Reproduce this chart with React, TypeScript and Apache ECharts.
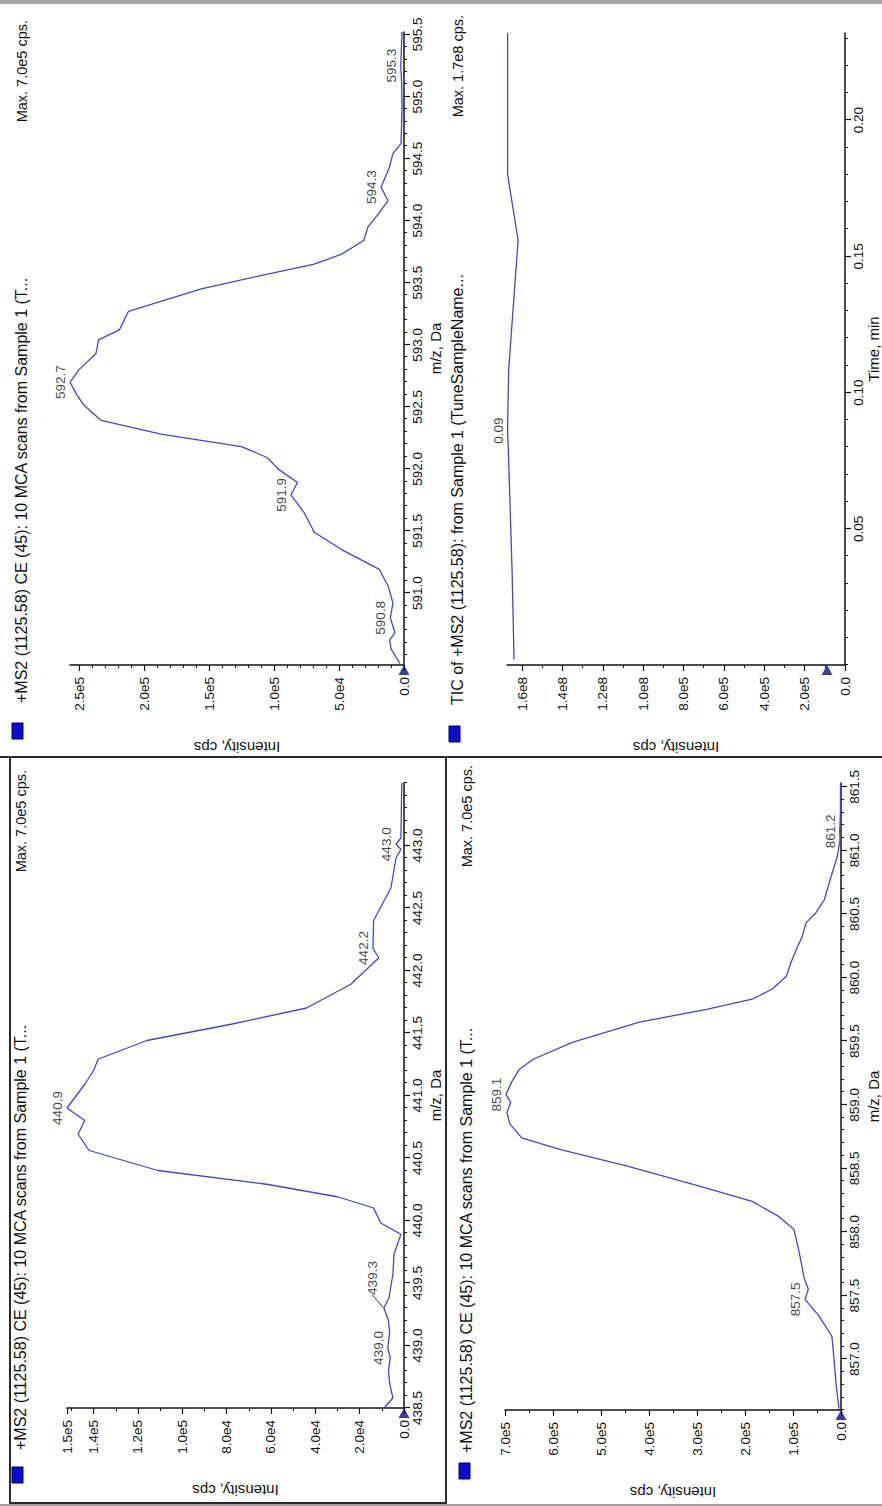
import React, { useEffect, useRef } from "react";
import * as echarts from "echarts";

// ---------- Panel A : +MS2 ... (m/z 438.5 - 443.5) ----------
const mzA = [438.5, 438.58, 438.7, 438.8, 438.9, 438.98, 439.1, 439.2, 439.3, 439.38, 439.57, 439.73, 439.89, 439.98, 440.1, 440.19, 440.29, 440.4, 440.56, 440.69, 440.8, 440.9, 441.09, 441.2, 441.29, 441.44, 441.57, 441.7, 441.89, 442.1, 442.18, 442.4, 442.66, 442.9, 442.97, 443.01, 443.06, 443.5];
const intA = [9000, 5000, 6500, 7000, 6200, 7300, 6500, 7000, 9100, 6800, 5000, 4500, 1400, 10500, 13700, 30000, 62000, 111000, 142000, 147000, 144000, 152000, 144000, 140000, 138000, 116000, 78000, 44000, 24000, 11400, 14000, 13700, 5900, 3600, 1400, 3600, 1400, 1000];
const peakTextA = ["439.0", "439.3", "440.9", "442.2", "443.0"];
const peakMzA = [438.98, 439.3, 440.9, 442.18, 443.01];
const peakIntA = [7300, 9100, 152000, 14000, 3600];
const mzTicksA = [438.5, 439.0, 439.5, 440.0, 440.5, 441.0, 441.5, 442.0, 442.5, 443.0];
const intTicksA = [0, 20000, 40000, 60000, 80000, 100000, 120000, 140000, 152000];
const intLabelsA = ["0.0", "2.0e4", "4.0e4", "6.0e4", "8.0e4", "1.0e5", "1.2e5", "1.4e5", "1.5e5"];

// ---------- Panel B : +MS2 ... (m/z 590.4 - 595.5) ----------
const mzB = [590.43, 590.55, 590.62, 590.68, 590.8, 590.92, 591.05, 591.19, 591.35, 591.49, 591.65, 591.79, 591.89, 592.0, 592.09, 592.18, 592.28, 592.39, 592.51, 592.6, 592.7, 592.8, 592.93, 593.04, 593.12, 593.27, 593.45, 593.57, 593.65, 593.73, 593.84, 593.95, 594.05, 594.16, 594.27, 594.42, 594.54, 594.62, 594.9, 595.1, 595.25, 595.52];
const intB = [3000, 10000, 11000, 7000, 10500, 8500, 12000, 19000, 48000, 69000, 77000, 87000, 82000, 97000, 105000, 125000, 187000, 233000, 246000, 252000, 257000, 250000, 237000, 235000, 219000, 212000, 156000, 105000, 69000, 48000, 31000, 27700, 20000, 12300, 17700, 11500, 8500, 2300, 1500, 1800, 2500, 1500];
const peakTextB = ["590.8", "591.9", "592.7", "594.3", "595.3"];
const peakMzB = [590.8, 591.79, 592.7, 594.27, 595.25];
const peakIntB = [10500, 87000, 257000, 17700, 2500];
const mzTicksB = [591.0, 591.5, 592.0, 592.5, 593.0, 593.5, 594.0, 594.5, 595.0, 595.5];
const intTicksB = [0, 50000, 100000, 150000, 200000, 250000];
const intLabelsB = ["0.0", "5.0e4", "1.0e5", "1.5e5", "2.0e5", "2.5e5"];

// ---------- Panel C : +MS2 ... (m/z 856.6 - 861.5) ----------
const mzC = [856.61, 856.79, 857.0, 857.18, 857.34, 857.47, 857.55, 857.64, 857.84, 858.02, 858.12, 858.24, 858.36, 858.52, 858.65, 858.74, 858.85, 858.94, 859.02, 859.08, 859.18, 859.28, 859.36, 859.49, 859.65, 859.75, 859.83, 859.91, 860.01, 860.12, 860.24, 860.32, 860.43, 860.51, 860.61, 860.79, 860.95, 861.08, 861.15, 861.3, 861.53];
const intC = [4200, 10000, 14500, 19000, 46000, 75000, 68000, 77000, 87000, 98000, 129000, 185000, 295000, 447000, 586000, 665000, 690000, 696000, 688000, 698000, 686000, 670000, 640000, 560000, 420000, 280000, 185000, 143000, 114000, 104000, 91000, 81000, 73000, 52000, 35000, 21000, 8000, 2000, 2600, 1200, 1000];
const peakTextC = ["857.5", "859.1", "861.2"];
const peakMzC = [857.47, 859.08, 861.15];
const peakIntC = [75000, 698000, 2600];
const mzTicksC = [857.0, 857.5, 858.0, 858.5, 859.0, 859.5, 860.0, 860.5, 861.0, 861.5];
const intTicksC = [0, 100000, 200000, 300000, 400000, 500000, 600000, 700000];
const intLabelsC = ["0.0", "1.0e5", "2.0e5", "3.0e5", "4.0e5", "5.0e5", "6.0e5", "7.0e5"];

// ---------- Panel D : TIC ----------
const timeD = [0.002, 0.035, 0.071, 0.086, 0.108, 0.156, 0.18, 0.232];
const intD = [1.64e8, 1.65e8, 1.665e8, 1.672e8, 1.667e8, 1.62e8, 1.672e8, 1.672e8];
const peakTextD = ["0.09"];
const peakTimeD = [0.086];
const peakIntD = [1.672e8];
const timeTicksD = [0.05, 0.1, 0.15, 0.2];
const intTicksD = [0, 2e7, 4e7, 6e7, 8e7, 1e8, 1.2e8, 1.4e8, 1.6e8];
const intLabelsD = ["0.0", "2.0e5", "4.0e5", "6.0e5", "8.0e5", "1.0e8", "1.2e8", "1.4e8", "1.6e8"];

const titleMS = "+MS2 (1125.58) CE (45): 10 MCA scans from Sample 1 (T...";
const titleTIC = "TIC of +MS2 (1125.58): from Sample 1 (TuneSampleName...";

const FONT = '"Liberation Sans", Arial, Helvetica, sans-serif';
const TXT = "#111111";
const AX = "#121212";
const CURVE = "#4646c6";

function minorTicks(min: number, max: number, step: number) {
  const out: number[] = [];
  let k = Math.ceil(min / step - 1e-9);
  while (k * step <= max + 1e-9) {
    out.push(+(k * step).toFixed(6));
    k++;
  }
  return out;
}

function labelFor(values: number[], labels: string[]) {
  return (v: number) => {
    for (let i = 0; i < values.length; i++) {
      if (Math.abs(values[i] - v) <= Math.abs(values[i]) * 1e-9 + 1e-12) return labels[i];
    }
    return "";
  };
}

const panels = [
  {
    grid: { left: 98, top: 67, width: 625, height: 337 },
    xMin: 438.5, xMax: 443.5, xTicks: mzTicksA, xStep: 0.1, xDigits: 1, xName: "m/z, Da", xNameGap: 24,
    yMax: 152000, yTicks: intTicksA, yLabels: intLabelsA, yStep: 10000,
    x: mzA, y: intA, pText: peakTextA, pX: peakMzA, pY: peakIntA, shift: [0, 30, 0, 0, 0],
    markerY: 0,
    title: titleMS, maxText: "Max. 7.0e5 cps.", titleX: 56, titleY: 20, maxX: 736, sqX: 23, sqY: 12,
  },
  {
    grid: { left: 841, top: 70, width: 633, height: 334 },
    xMin: 590.42, xMax: 595.52, xTicks: mzTicksB, xStep: 0.1, xDigits: 1, xName: "m/z, Da", xNameGap: 24,
    yMax: 257000, yTicks: intTicksB, yLabels: intLabelsB, yStep: 10000,
    x: mzB, y: intB, pText: peakTextB, pX: peakMzB, pY: peakIntB, shift: [0, 0, 0, 0, 0],
    markerY: 0,
    title: titleMS, maxText: "Max. 7.0e5 cps.", titleX: 803, titleY: 21, maxX: 1486, sqX: 767, sqY: 12,
  },
  {
    grid: { left: 96, top: 505, width: 627, height: 338 },
    xMin: 856.6, xMax: 861.53, xTicks: mzTicksC, xStep: 0.1, xDigits: 1, xName: "m/z, Da", xNameGap: 25,
    yMax: 700000, yTicks: intTicksC, yLabels: intLabelsC, yStep: 50000,
    x: mzC, y: intC, pText: peakTextC, pX: peakMzC, pY: peakIntC, shift: [0, 0, 0],
    markerY: 0,
    title: titleMS, maxText: "Max. 7.0e5 cps.", titleX: 53, titleY: 466, maxX: 741, sqX: 27, sqY: 459,
  },
  {
    grid: { left: 841, top: 507, width: 632, height: 338 },
    xMin: 0, xMax: 0.232, xTicks: timeTicksD, xStep: 0.01, xDigits: 2, xName: "Time, min", xNameGap: 18,
    yMax: 1.675e8, yTicks: intTicksD, yLabels: intLabelsD, yStep: 1e7,
    x: timeD, y: intD, pText: peakTextD, pX: peakTimeD, pY: peakIntD, shift: [0],
    markerY: 8.9e6,
    title: titleTIC, maxText: "Max. 1.7e8 cps.", titleX: 801, titleY: 457, maxX: 1491, sqX: 764, sqY: 449,
  },
];

function buildOption() {
  const grid: any[] = [];
  const xAxis: any[] = [];
  const yAxis: any[] = [];
  const series: any[] = [];
  const graphic: any[] = [];

  panels.forEach((p, i) => {
    grid.push({ ...p.grid, containLabel: false });
    const xi = xAxis.length;
    const yi = yAxis.length;
    xAxis.push({
      type: "value", gridIndex: i, min: p.xMin, max: p.xMax, position: "bottom",
      name: p.xName, nameLocation: "middle", nameGap: p.xNameGap,
      nameTextStyle: { fontFamily: FONT, fontSize: 15, color: TXT },
      axisLine: { show: true, onZero: false, lineStyle: { color: AX, width: 1.5 } },
      axisTick: { show: true, length: 6, customValues: p.xTicks, lineStyle: { color: AX, width: 1.2 } },
      axisLabel: {
        show: true, customValues: p.xTicks, margin: 6,
        formatter: (v: number) => v.toFixed(p.xDigits),
        fontFamily: FONT, fontSize: 13.5, color: TXT,
      },
      splitLine: { show: false },
    });
    xAxis.push({
      type: "value", gridIndex: i, min: p.xMin, max: p.xMax, position: "bottom",
      axisLine: { show: false, onZero: false },
      axisTick: { show: true, length: 3, customValues: minorTicks(p.xMin, p.xMax, p.xStep), lineStyle: { color: AX, width: 1 } },
      axisLabel: { show: false },
      splitLine: { show: false },
    });
    yAxis.push({
      type: "value", gridIndex: i, min: 0, max: p.yMax, position: "left",
      name: "Intensity, cps", nameLocation: "middle", nameGap: 75, nameRotate: 90,
      nameTextStyle: { fontFamily: FONT, fontSize: 15, color: TXT },
      axisLine: { show: true, onZero: false, lineStyle: { color: AX, width: 1.5 } },
      axisTick: { show: true, length: 6, customValues: p.yTicks, lineStyle: { color: AX, width: 1.2 } },
      axisLabel: {
        show: true, customValues: p.yTicks, margin: 12,
        formatter: labelFor(p.yTicks, p.yLabels),
        fontFamily: FONT, fontSize: 13.5, color: TXT,
      },
      splitLine: { show: false },
    });
    yAxis.push({
      type: "value", gridIndex: i, min: 0, max: p.yMax, position: "left",
      axisLine: { show: false, onZero: false },
      axisTick: { show: true, length: 3, customValues: minorTicks(0, p.yMax, p.yStep), lineStyle: { color: AX, width: 1 } },
      axisLabel: { show: false },
      splitLine: { show: false },
    });

    series.push({
      type: "line", xAxisIndex: xi, yAxisIndex: yi,
      data: p.x.map((m, k) => [m, p.y[k]]),
      showSymbol: false, symbol: "none", silent: true,
      lineStyle: { color: CURVE, width: 1.3 }, z: 3,
    });
    series.push({
      type: "scatter", xAxisIndex: xi, yAxisIndex: yi, silent: true, clip: false,
      data: p.pText.map((t, k) => ({
        name: t, value: [p.pX[k], p.pY[k]],
        labelLine: { show: p.shift[k] !== 0, lineStyle: { color: "#333", width: 1 } },
      })),
      symbolSize: 1, itemStyle: { color: "rgba(0,0,0,0)" },
      label: { show: true, position: "top", distance: 2, formatter: "{b}", fontFamily: FONT, fontSize: 13.5, color: TXT },
      labelLayout: (params: any) => ({ dx: p.shift[params.dataIndex] || 0, dy: p.shift[params.dataIndex] ? -2 : 0 }),
      z: 4,
    });
    series.push({
      type: "scatter", xAxisIndex: xi, yAxisIndex: yi, silent: true, clip: false,
      data: [[p.xMin, p.markerY]],
      symbol: "triangle", symbolSize: [11, 10], symbolRotate: -90, symbolOffset: [-5, 0],
      itemStyle: { color: "#0b0b82" }, z: 6,
    });

    graphic.push({
      type: "rect", shape: { x: p.sqX, y: p.sqY, width: 16, height: 11 },
      style: { fill: "#0a0ad2", stroke: "#00005a", lineWidth: 1 }, z: 10,
    });
    graphic.push({
      type: "text", x: p.titleX, y: p.titleY,
      style: { text: p.title, fontFamily: FONT, fontSize: 16, fill: TXT, align: "left", verticalAlign: "middle" },
      z: 10,
    });
    graphic.push({
      type: "text", x: p.maxX, y: p.titleY + 1,
      style: { text: p.maxText, fontFamily: FONT, fontSize: 14.5, fill: TXT, align: "right", verticalAlign: "middle" },
      z: 10,
    });
  });

  // frames / separators
  graphic.push({ type: "rect", shape: { x: 1502, y: 0, width: 4, height: 882 }, style: { fill: "#a6a6a6" }, z: 11 });
  graphic.push({ type: "rect", shape: { x: 0, y: 0, width: 2, height: 882 }, style: { fill: "#a0a0a0" }, z: 11 });
  graphic.push({ type: "line", shape: { x1: 749, y1: 0, x2: 749, y2: 882 }, style: { stroke: "#2a2a2a", lineWidth: 2 }, z: 11 });
  graphic.push({ type: "rect", shape: { x: 3, y: 10, width: 746, height: 436 }, style: { fill: "none", stroke: "#2a2a2a", lineWidth: 2 }, z: 11 });

  return {
    animation: false,
    backgroundColor: "#ffffff",
    textStyle: { fontFamily: FONT },
    grid, xAxis, yAxis, series, graphic,
  };
}

export default function App() {
  const ref = useRef<HTMLDivElement>(null);
  useEffect(() => {
    if (!ref.current) return;
    const chart = echarts.init(ref.current, null, { renderer: "svg", width: 1506, height: 882 });
    chart.setOption(buildOption() as any);
    return () => chart.dispose();
  }, []);
  return (
    <div style={{ position: "fixed", left: 0, top: 0, width: 882, height: 1506, overflow: "hidden", background: "#fff" }}>
      <div
        ref={ref}
        style={{
          position: "absolute", left: 0, top: 0, width: 1506, height: 882,
          transformOrigin: "0 0", transform: "translateY(1506px) rotate(-90deg)", background: "#fff",
        }}
      />
    </div>
  );
}
